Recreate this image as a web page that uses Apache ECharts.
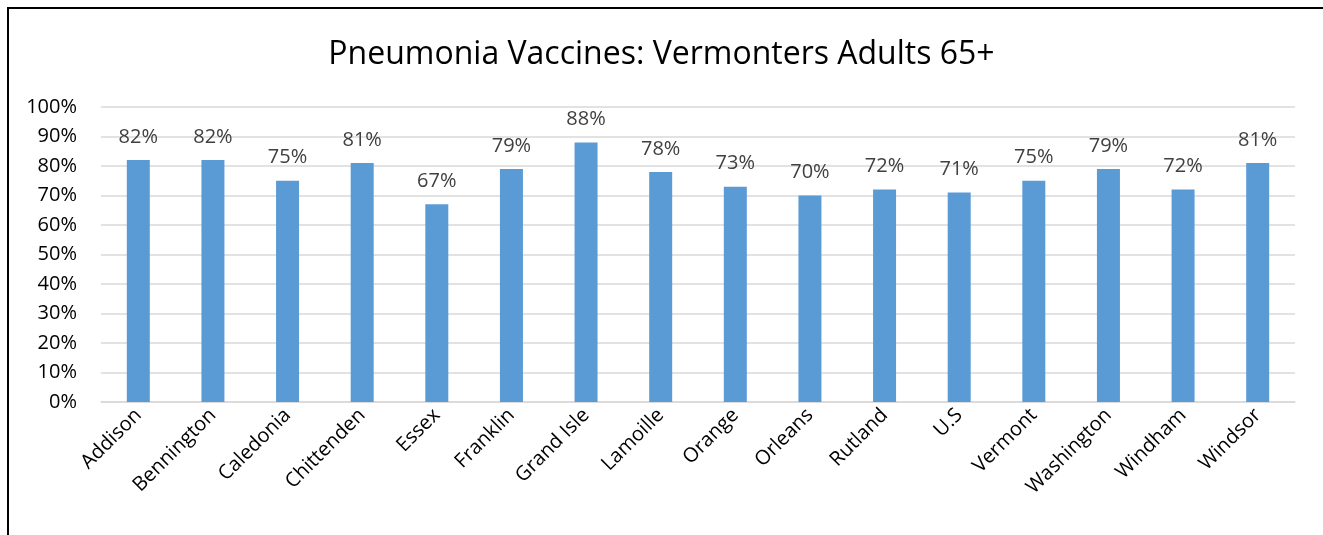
<!DOCTYPE html>
<html>
<head>
<meta charset="utf-8">
<script src="https://cdn.jsdelivr.net/npm/echarts@6/dist/echarts.min.js"></script>
<style>
  html, body { margin: 0; padding: 0; background: #fff; }
  #chart { width: 1323px; height: 535px; }
</style>
</head>
<body>
<div id="chart"></div>
<script>
// Counties (plus state and national averages)
const categories = ['Addison', 'Bennington', 'Caledonia', 'Chittenden', 'Essex', 'Franklin',
  'Grand Isle', 'Lamoille', 'Orange', 'Orleans', 'Rutland', 'U.S', 'Vermont',
  'Washington', 'Windham', 'Windsor'];
// Share of adults 65+ with pneumonia vaccine, percent
const vaccinated = [82, 82, 75, 81, 67, 79, 88, 78, 73, 70, 72, 71, 75, 79, 72, 81];
const titleText = 'Pneumonia Vaccines: Vermonters Adults 65+';

const font = 'Open Sans, Liberation Sans, sans-serif';
const chart = echarts.init(document.getElementById('chart'));
chart.setOption({
  animation: false,
  backgroundColor: '#fff',
  title: {
    text: titleText,
    left: 'center',
    top: 34,
    textStyle: { fontFamily: font, fontSize: 32, fontWeight: 'normal', color: '#000' }
  },
  grid: { left: 101, right: 28, top: 107, bottom: 133, containLabel: false },
  xAxis: {
    type: 'category',
    data: categories,
    axisTick: { show: false },
    axisLine: { lineStyle: { color: '#d9d9d9', width: 1.5 } },
    axisLabel: {
      rotate: 45, interval: 0, margin: 10,
      fontFamily: font, fontSize: 20, color: '#000'
    }
  },
  yAxis: {
    type: 'value',
    min: 0, max: 100, interval: 10,
    axisLine: { show: false },
    axisTick: { show: false },
    splitLine: { lineStyle: { color: '#d9d9d9', width: 1.5 } },
    axisLabel: {
      formatter: '{value}%', margin: 24,
      fontFamily: font, fontSize: 20, color: '#000'
    }
  },
  series: [{
    type: 'bar',
    data: vaccinated,
    barWidth: 23,
    itemStyle: { color: '#5B9BD5' },
    label: {
      show: true, position: 'top', distance: 13,
      formatter: '{c}%',
      fontFamily: font, fontSize: 20, color: '#404040'
    }
  }],
  graphic: [
    { type: 'line', shape: { x1: 7, y1: 8, x2: 1323, y2: 8 }, style: { stroke: '#000', lineWidth: 2 } },
    { type: 'line', shape: { x1: 8, y1: 7, x2: 8, y2: 535 }, style: { stroke: '#000', lineWidth: 2 } }
  ]
});
</script>
</body>
</html>
